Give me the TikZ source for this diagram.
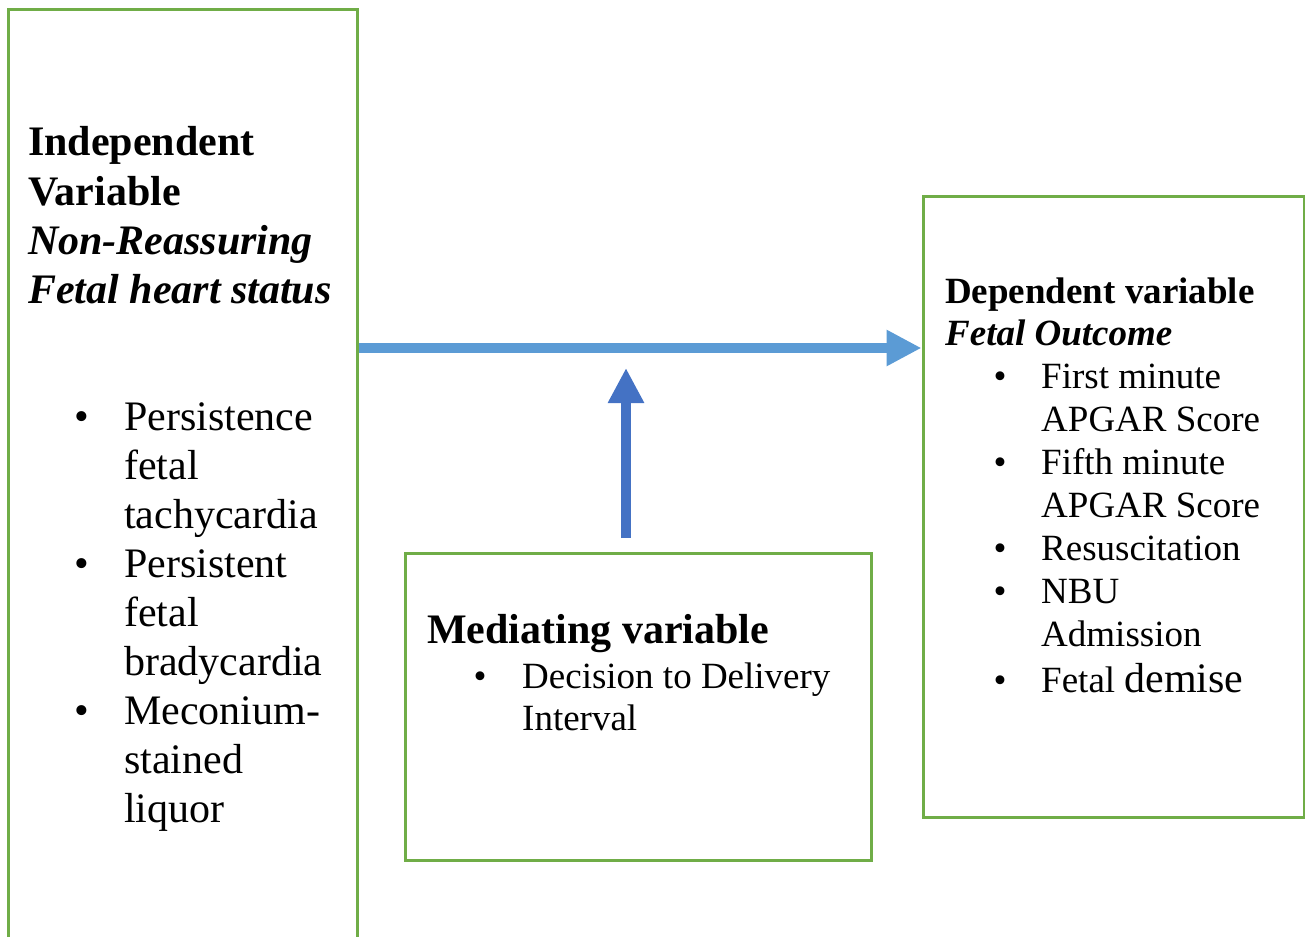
\documentclass[tikz,border=0pt]{standalone}
\usepackage{fontspec}
\setmainfont{Liberation Serif}
\usetikzlibrary{arrows.meta}
\definecolor{boxline}{RGB}{112,173,71}
\definecolor{mainarrow}{RGB}{91,155,213}
\definecolor{medarrow}{RGB}{68,114,196}
\newcommand{\bigtxt}{\fontsize{42}{49}\selectfont}
\newcommand{\smalltxt}{\fontsize{37}{43}\selectfont}

\begin{document}
\begin{tikzpicture}[x=1pt, y=-1pt,
  box/.style={draw=boxline, line width=3pt, rectangle, inner sep=0pt},
  headtxt/.style={anchor=base west, inner sep=0pt, font=\bigtxt\bfseries},
  headit/.style={anchor=base west, inner sep=0pt, font=\bigtxt\bfseries\itshape},
  bigitem/.style={anchor=base west, inner sep=0pt, font=\bigtxt},
  smallhead/.style={anchor=base west, inner sep=0pt, font=\smalltxt\bfseries},
  smallit/.style={anchor=base west, inner sep=0pt, font=\smalltxt\bfseries\itshape},
  smallitem/.style={anchor=base west, inner sep=0pt, font=\smalltxt},
  dot/.style={anchor=base, inner sep=0pt},
  link/.style={line width=10pt, -{Triangle[length=35pt, width=34pt]}},
]
\useasboundingbox (0,0) rectangle (1305,936);

% ---- Boxes ----
\node[box, minimum width=349pt, minimum height=935pt] (ivbox) at (182.5,477.5) {};
\node[box, minimum width=381pt, minimum height=621pt] (dvbox) at (1113.5,506.5) {};
\node[box, minimum width=466pt, minimum height=307pt] (mvbox) at (638,706.5) {};

% ---- Independent variable ----
\node[headtxt] (iv1) at (28,156) {Independent};
\node[headtxt] (iv2) at (28,205) {Variable};
\node[headit]  (iv3) at (28,254) {Non-Reassuring};
\node[headit]  (iv4) at (28,303) {Fetal heart status};
\foreach \t [count=\i from 0] in {Persistence, fetal, tachycardia,
                                  Persistent, fetal, bradycardia,
                                  Meconium-, stained, liquor}
  \node[bigitem] (ivl\i) at (124,430+49*\i) {\t};
\foreach \k in {0,3,6}
  \node[dot, font=\bigtxt] (ivb\k) at (82,430+49*\k) {\textbullet};

% ---- Dependent variable ----
\node[smallhead] (dv1) at (945,303) {Dependent variable};
\node[smallit]   (dv2) at (945,345) {Fetal Outcome};
\foreach \t [count=\i from 0] in {First minute, APGAR Score,
                                  Fifth minute, APGAR Score,
                                  Resuscitation, NBU, Admission}
  \node[smallitem] (dvl\i) at (1041,388+43*\i) {\t};
\node[smallitem] (dvl7) at (1041,692) {Fetal {\bigtxt demise}};
\foreach \k in {0,2,4,5}
  \node[dot, font=\smalltxt] (dvb\k) at (1000,388+43*\k) {\textbullet};
\node[dot, font=\smalltxt] (dvb7) at (1000,692) {\textbullet};

% ---- Mediating variable ----
\node[headtxt]   (mv1) at (427,643) {Mediating variable};
\node[dot, font=\smalltxt] (mvb) at (480,688) {\textbullet};
\node[smallitem] (mvl1) at (522,688) {Decision to Delivery};
\node[smallitem] (mvl2) at (522,730) {Interval};

% ---- Arrows ----
\coordinate (mainrow) at (0,348);
\coordinate (medfoot) at (626,538);
\coordinate (medtip)  at (626,368);
\draw[link, mainarrow] (ivbox.east |- mainrow) -- (dvbox.west |- mainrow);
\draw[link, medarrow] (medfoot) -- (medtip);
\end{tikzpicture}
\end{document}
